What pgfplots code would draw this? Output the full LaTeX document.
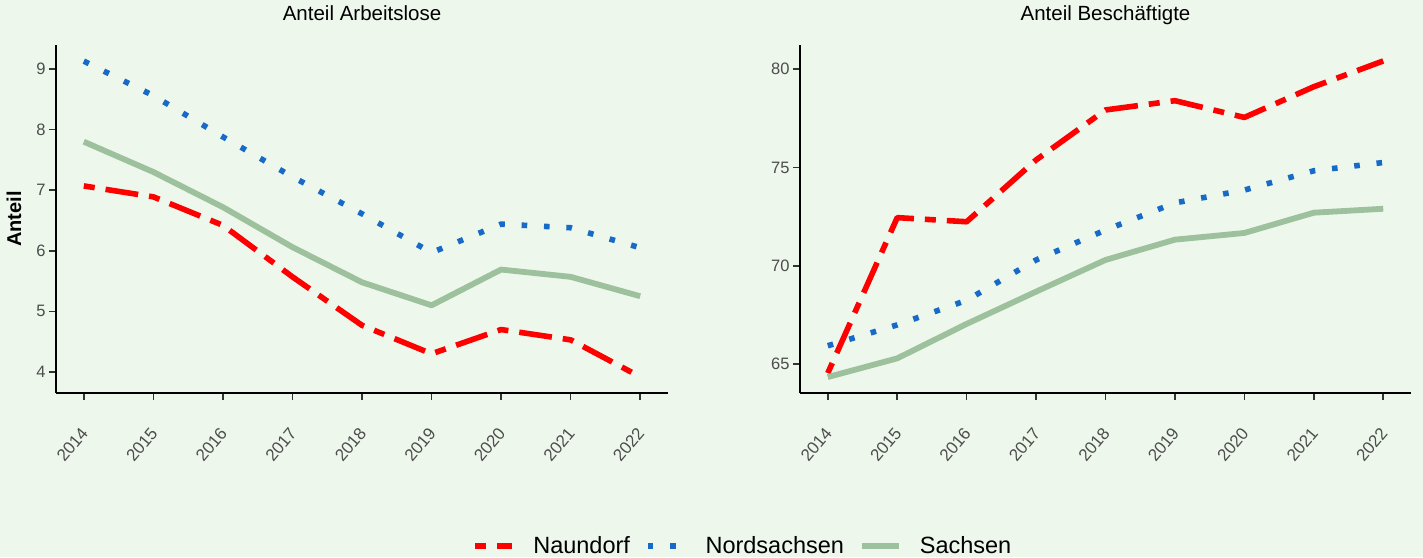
\documentclass[border=0pt]{standalone}
\usepackage{fontspec}
\setmainfont{Liberation Sans}
\usepackage{pgfplots}
\pgfplotsset{compat=1.18}
\definecolor{bg}{RGB}{237,247,235}
\definecolor{cred}{RGB}{255,0,0}
\definecolor{cblue}{RGB}{24,106,200}
\definecolor{cgreen}{RGB}{157,192,157}
\definecolor{tickgrey}{RGB}{77,77,77}
\definecolor{axgrey}{RGB}{51,51,51}

\pgfplotsset{
  panel/.style={
    scale only axis, height=348pt,
    axis x line*=bottom, axis y line*=left,
    axis line style={-, line width=1.1pt, black},
    xmin=2013.6, xmax=2022.4,
    xtick={2014,2015,2016,2017,2018,2019,2020,2021,2022},
    xticklabels={2014,2015,2016,2017,2018,2019,2020,2021,2022},
    tick align=outside, tick pos=left,
    major tick length=7pt,
    every tick/.style={line width=1.6pt, color=axgrey},
    /pgf/number format/assume math mode=true,
    xticklabel style={xshift=-4pt, yshift=-26pt, rotate=50, anchor=north east, inner sep=0pt, font=\fontsize{17}{20}\selectfont, text=tickgrey},
    yticklabel style={font=\fontsize{16.5}{19}\selectfont, text=tickgrey},
    title style={font=\fontsize{20.5}{24}\selectfont, at={(0.5,1)}, anchor=base, yshift=18pt},
    line join=round,
    no markers,
    naun/.style={color=cred, line width=5.6pt, dash pattern=on 11pt off 11pt on 33pt off 11pt},
    nord/.style={color=cblue, line width=5.6pt, dash pattern=on 5.6pt off 16.8pt},
    sach/.style={color=cgreen, line width=5.8pt},
  }
}

\begin{document}
\begin{tikzpicture}
\fill[bg] (0pt,0pt) rectangle (1423pt,557pt);

\begin{axis}[panel, width=612pt, at={(56pt,164pt)}, anchor=south west,
  ymin=3.653, ymax=9.396, ytick={4,5,6,7,8,9},
  title={Anteil Arbeitslose},
  ylabel={\bfseries Anteil},
  ylabel style={font=\fontsize{20}{24}\selectfont, at={(axis description cs:-0.0686,0.5)}, anchor=center},
  legend columns=3,
  legend style={at={(axis description cs:1.1209,-0.4397)}, anchor=center, draw=none, fill=none,
    font=\fontsize{23.5}{28}\selectfont, nodes={inner sep=0pt},
    /tikz/every odd column/.append style={column sep=18pt},
    /tikz/every even column/.append style={column sep=15pt}},
  legend image code/.code={\draw[#1] (0pt,0pt) -- (37pt,0pt);},
]
\addplot[naun] coordinates {(2014,7.07) (2015,6.89) (2016,6.42) (2017,5.57) (2018,4.77) (2019,4.30) (2020,4.70) (2021,4.53) (2022,3.92)};
\addlegendentry{Naundorf}
\addplot[nord] coordinates {(2014,9.13) (2015,8.56) (2016,7.88) (2017,7.22) (2018,6.61) (2019,5.97) (2020,6.44) (2021,6.38) (2022,6.05)};
\addlegendentry{Nordsachsen}
\addplot[sach] coordinates {(2014,7.80) (2015,7.30) (2016,6.72) (2017,6.06) (2018,5.48) (2019,5.10) (2020,5.69) (2021,5.57) (2022,5.25)};
\addlegendentry{Sachsen}
\end{axis}

\begin{axis}[panel, width=611pt, at={(800pt,164pt)}, anchor=south west,
  ymin=63.54, ymax=81.22, ytick={65,70,75,80},
  title={Anteil Besch\"aftigte},
]
\addplot[naun] coordinates {(2014,64.55) (2015,72.45) (2016,72.24) (2017,75.38) (2018,77.92) (2019,78.39) (2020,77.54) (2021,79.10) (2022,80.41)};
\addplot[nord] coordinates {(2014,65.94) (2015,67.00) (2016,68.25) (2017,70.30) (2018,71.82) (2019,73.20) (2020,73.85) (2021,74.83) (2022,75.25)};
\addplot[sach] coordinates {(2014,64.35) (2015,65.30) (2016,67.05) (2017,68.69) (2018,70.30) (2019,71.33) (2020,71.67) (2021,72.70) (2022,72.90)};
\end{axis}

\pgfresetboundingbox
\path[use as bounding box] (0pt,0pt) rectangle (1423pt,557pt);
\end{tikzpicture}
\end{document}
